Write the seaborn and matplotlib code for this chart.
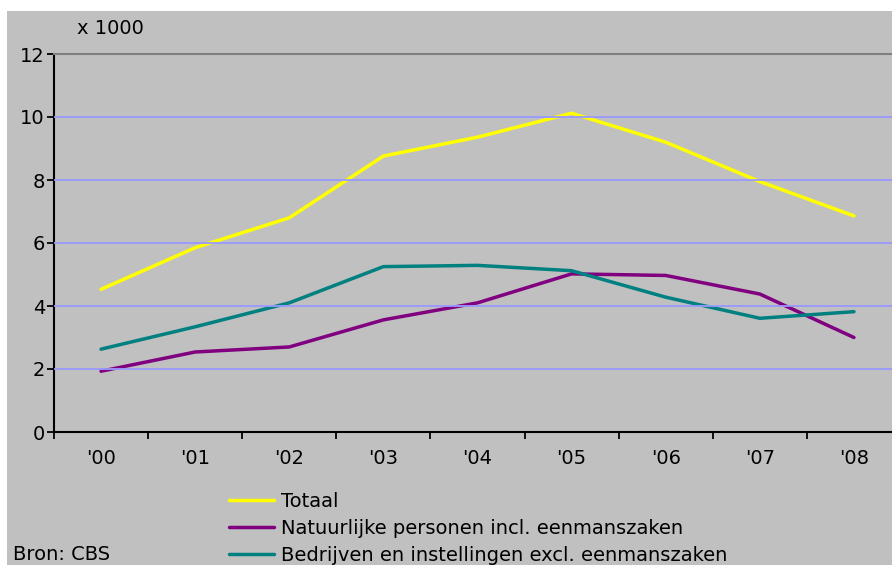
import matplotlib
matplotlib.use("Agg")
import matplotlib.pyplot as plt
from matplotlib.patches import Rectangle
import seaborn as sns
import pandas as pd
import numpy as np

years = ["'00", "'01", "'02", "'03", "'04", "'05", "'06", "'07", "'08"]
totaal = [4.53, 5.85, 6.80, 8.76, 9.36, 10.12, 9.20, 7.95, 6.86]
natuurlijk = [1.93, 2.54, 2.70, 3.56, 4.10, 5.02, 4.97, 4.38, 3.00]
bedrijven = [2.63, 3.34, 4.10, 5.25, 5.29, 5.12, 4.28, 3.61, 3.82]
series_names = ["Totaal",
                "Natuurlijke personen incl. eenmanszaken",
                "Bedrijven en instellingen excl. eenmanszaken"]
colors = ["#FFFF00", "#800080", "#008080"]
y_ticks = [0, 2, 4, 6, 8, 10, 12]

sns.set_theme(style="white")
plt.rcParams['font.family'] = ['DejaVu Sans']
plt.rcParams['text.color'] = 'black'
FS = 14
LW = 2.5

rows = []
for name, vals in zip(series_names, [totaal, natuurlijk, bedrijven]):
    for i, (y, v) in enumerate(zip(years, vals)):
        rows.append({"pos": i, "jaar": y, "waarde": v, "reeks": name})
df = pd.DataFrame(rows)

W, H = 892, 565
fig = plt.figure(figsize=(W / 100, H / 100), dpi=100)
fig.patch.set_facecolor("white")
fig.patches.append(Rectangle((7 / W, 0), 1, (H - 11) / H, transform=fig.transFigure,
                             facecolor="#C0C0C0", edgecolor="none", zorder=-10))

ax = fig.add_axes([54 / W, 133 / H, 847 / W, 378 / H])
ax.set_zorder(1)
ax.set_facecolor("#C0C0C0")

sns.lineplot(data=df, x="pos", y="waarde", hue="reeks", hue_order=series_names,
             palette=colors, linewidth=LW, ax=ax, sort=False, legend=True)

ax.set_xlim(-0.5, len(years) - 0.5)
ax.set_ylim(0, 12)
ax.set_yticks(y_ticks)
ax.set_yticklabels([str(t) for t in y_ticks], fontsize=FS, color="black")
ax.set_xticks(np.arange(len(years)))
ax.set_xticklabels(years, fontsize=FS, color="black")
ax.set_xticks(np.arange(len(years) + 1) - 0.5, minor=True)
ax.tick_params(axis="x", which="major", length=0, pad=12)
ax.tick_params(axis="x", which="minor", length=5, width=1.3, direction="out",
               color="black", bottom=True)
ax.tick_params(axis="y", which="major", length=5, width=1.3, direction="out",
               color="black", pad=1.5, left=True)
ax.set_xlabel("")
ax.set_ylabel("")

for t in [2, 4, 6, 8, 10]:
    ax.axhline(t, color="#9999FF", linewidth=1.3, zorder=0.5)

ax.spines["left"].set_color("black")
ax.spines["left"].set_linewidth(1.5)
ax.spines["bottom"].set_color("black")
ax.spines["bottom"].set_linewidth(1.5)
ax.spines["top"].set_color("#808080")
ax.spines["top"].set_linewidth(1.5)
ax.spines["right"].set_visible(False)
for ln in ax.get_lines():
    ln.set_zorder(3)

handles, labels = ax.get_legend_handles_labels()
ax.get_legend().remove()
leg = fig.legend(handles, labels, loc="upper left",
                 bbox_to_anchor=(229 / W, (H - 492) / H), frameon=False,
                 fontsize=FS, handlelength=2.3, handletextpad=0.35,
                 labelspacing=0.4, borderpad=0.0, borderaxespad=0.0)
for lh in leg.get_lines():
    lh.set_linewidth(LW)
for tx in leg.get_texts():
    tx.set_color("black")

fig.text(77 / W, (H - 29) / H, "x 1000", fontsize=FS, ha="left", va="center", color="black")
fig.text(13 / W, (H - 555) / H, "Bron: CBS", fontsize=FS, ha="left", va="center", color="black")

fig.savefig("out.png", dpi=100, facecolor=fig.get_facecolor())
